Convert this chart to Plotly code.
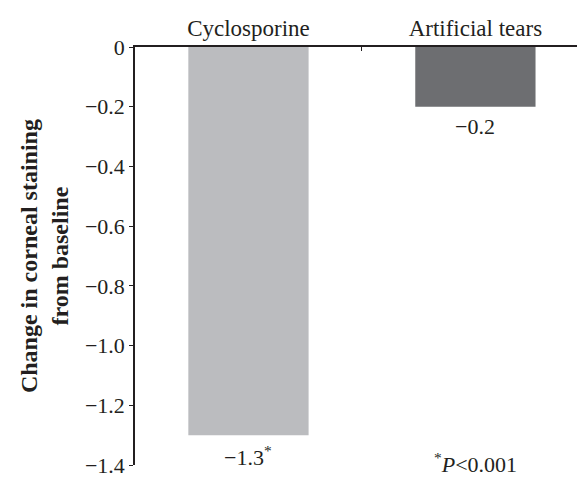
import plotly.graph_objects as go

categories = ["Cyclosporine", "Artificial tears"]
values = [-1.3, -0.2]
value_labels = ["−1.3<sup>*</sup>", "−0.2"]
bar_colors = ["#BBBCBF", "#6D6E71"]
tick_vals = [0, -0.2, -0.4, -0.6, -0.8, -1.0, -1.2, -1.4]
tick_text = ["0", "−0.2", "−0.4", "−0.6", "−0.8", "−1.0", "−1.2", "−1.4"]
y_title = "<b>Change in corneal staining<br>from baseline</b>"
footnote = "<sup>*</sup><i>P</i>&lt;0.001"

FONT = "Liberation Serif"
INK = "#231F20"

fig = go.Figure()
fig.add_trace(go.Bar(
    x=categories, y=values, marker=dict(color=bar_colors, line=dict(width=0)),
    width=0.53, showlegend=False,
))

for c, v, t in zip(categories, values, value_labels):
    fig.add_annotation(x=c, y=v, text=t, showarrow=False, yanchor="top", yshift=-5,
                       font=dict(family=FONT, size=22, color=INK))

fig.add_annotation(x=categories[1], y=-1.4, text=footnote, showarrow=False,
                   yanchor="middle", yshift=2, font=dict(family=FONT, size=22, color=INK))

fig.add_annotation(xref="paper", yref="paper", x=-0.202, y=0.5, text=y_title,
                   textangle=-90, showarrow=False, xanchor="center", yanchor="middle",
                   font=dict(family=FONT, size=24, color=INK))

fig.update_layout(
    width=577, height=470,
    margin=dict(l=127, r=0, t=39, b=11),
    paper_bgcolor="white", plot_bgcolor="white",
    font=dict(family=FONT, size=22, color=INK),
    xaxis=dict(side="top", showline=True, linecolor=INK, linewidth=1.5,
               ticks="inside", ticklen=4, tickcolor=INK, tickson="boundaries",
               showgrid=False, zeroline=False, range=[-0.5, 1.483],
               tickfont=dict(family=FONT, size=23, color=INK)),
    yaxis=dict(range=[-1.4, 0], tickvals=tick_vals, ticktext=tick_text,
               showline=True, linecolor=INK, linewidth=1.5, ticks="outside",
               ticklen=4, tickcolor=INK, showgrid=False, zeroline=False,
               ticklabeloverflow="allow",
               tickfont=dict(family=FONT, size=22, color=INK)),
)

fig.write_html("out.html")
